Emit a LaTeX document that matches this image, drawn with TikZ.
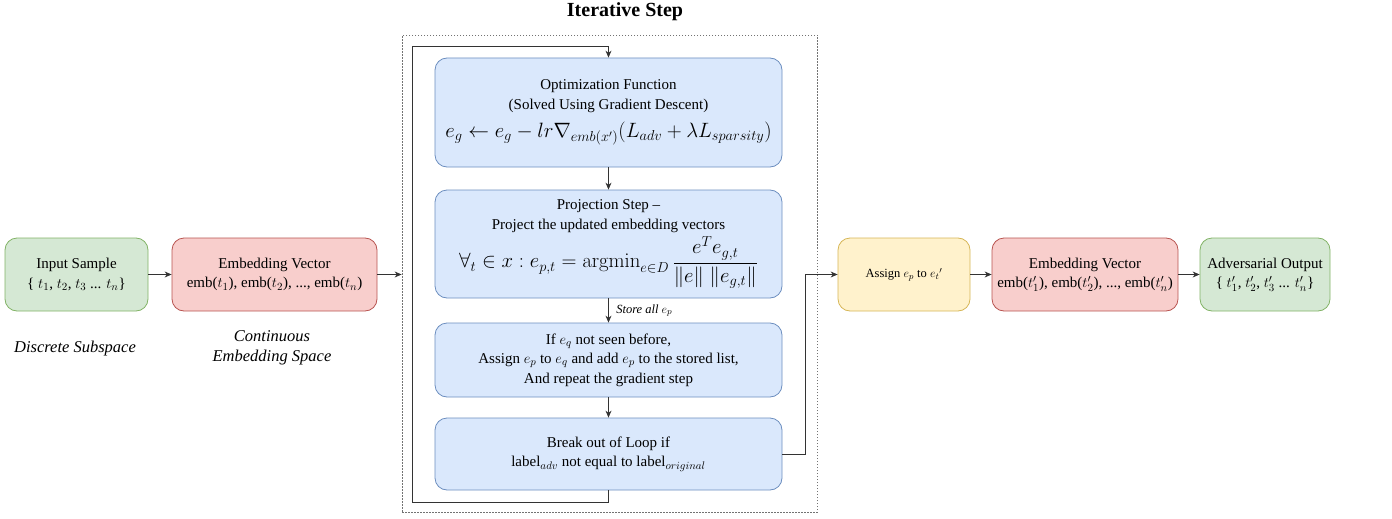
\documentclass[tikz,border=0pt]{standalone}
\usepackage[no-math]{fontspec}
\setmainfont{Liberation Serif}
\usetikzlibrary{arrows.meta}
\definecolor{gfill}{HTML}{D5E8D4}\definecolor{gline}{HTML}{82B366}
\definecolor{rfill}{HTML}{F8CECC}\definecolor{rline}{HTML}{B85450}
\definecolor{bfill}{HTML}{DAE8FC}\definecolor{bline}{HTML}{6C8EBF}
\definecolor{yfill}{HTML}{FFF2CC}\definecolor{yline}{HTML}{D6B656}
\begin{document}
\begin{tikzpicture}[x=1pt,y=-1pt,
  box/.style={rounded corners=12pt, line width=0.8pt, align=center, inner sep=0pt, font=\fontsize{15}{19.5}\selectfont},
  gbox/.style={box, fill=gfill, draw=gline},
  rbox/.style={box, fill=rfill, draw=rline},
  bbox/.style={box, fill=bfill, draw=bline, minimum width=347pt},
  ybox/.style={box, fill=yfill, draw=yline},
  arr/.style={-{Stealth[length=7pt,width=6pt]}, line width=0.9pt, draw=black!80},
  note/.style={font=\fontsize{16.5}{20}\selectfont\itshape, align=center}
]
\useasboundingbox (0,0) rectangle (1392,519);
\node[font=\fontsize{20}{22}\selectfont\bfseries] (title) at (625,12) {Iterative Step};
\node[draw=black!55, dash pattern=on 1.5pt off 1.5pt, line width=0.8pt, minimum width=415pt, minimum height=477pt, inner sep=0pt] (iter) at (609.5,273.5) {};

\node[gbox, minimum width=143pt, minimum height=73pt] (in) at (76.5,274.5) {Input Sample\\{\{} $t_1$, $t_2$, $t_3$ ... $t_n$\}};
\node[rbox, minimum width=205pt, minimum height=73pt] (emb1) at (274.5,274.5) {Embedding Vector\\emb($t_1$), emb($t_2$), ..., emb($t_n$)};
\node[ybox, minimum width=132pt, minimum height=73pt, font=\fontsize{12.5}{15}\selectfont] (assign) at (904,274.5) {Assign $e_p$ to $e_t{}'$};
\node[rbox, minimum width=186pt, minimum height=73pt] (emb2) at (1085,274.5) {Embedding Vector\\emb($t'_1$), emb($t'_2$), ..., emb($t'_n$)};
\node[gbox, minimum width=130pt, minimum height=73pt] (adv) at (1265,274.5) {Adversarial Output\\\{ $t'_1$, $t'_2$, $t'_3$ ... $t'_n$\}};

\node[note] (disc) at (75,349) {Discrete Subspace};
\node[note] (cont) at (272,348) {Continuous\\Embedding Space};

\node[bbox, minimum height=109pt] (b1) at (608.5,112.5) {Optimization Function\\(Solved Using Gradient Descent)\\[9pt]{\fontsize{20.5}{24}\selectfont $e_g \leftarrow e_g - lr\nabla_{emb(x')}(L_{adv} + \lambda L_{sparsity})$}};
\node[bbox, minimum height=108pt] (b2) at (608.5,244) {Projection Step --\\Project the updated embedding vectors\\[3pt]{\fontsize{21}{24}\selectfont $\displaystyle\forall_t \in x : e_{p,t} = \mathrm{argmin}_{e\in D}\,\frac{e^T e_{g,t}}{\|e\|\;\|e_{g,t}\|}$}};
\node[bbox, minimum height=74pt] (b3) at (608.5,360) {If $e_q$ not seen before,\\Assign $e_p$ to $e_q$ and add $e_p$ to the stored list,\\And repeat the gradient step};
\node[bbox, minimum height=72pt] (b4) at (608.5,454) {Break out of Loop if\\label$_{adv}$ not equal to label$_{original}$};

\coordinate (lb) at (412,502);
\coordinate (lt) at (412,46);
\coordinate (rx) at (805,274.5);

\draw[arr] (in) -- (emb1);
\draw[arr] (emb1.east) -- (emb1.east -| iter.west);
\draw[arr] (b1) -- (b2);
\draw[arr] (b2) -- node[right=4pt, font=\fontsize{12.5}{14}\selectfont\itshape] (store) {Store all $e_p$} (b3);
\draw[arr] (b3) -- (b4);
\draw[arr] (b4.south) |- (lb) -- (lt) -| (b1.north);
\draw[arr] (b4.east) -| (rx) -- (assign.west);
\draw[arr] (assign) -- (emb2);
\draw[arr] (emb2) -- (adv);
\end{tikzpicture}
\end{document}
